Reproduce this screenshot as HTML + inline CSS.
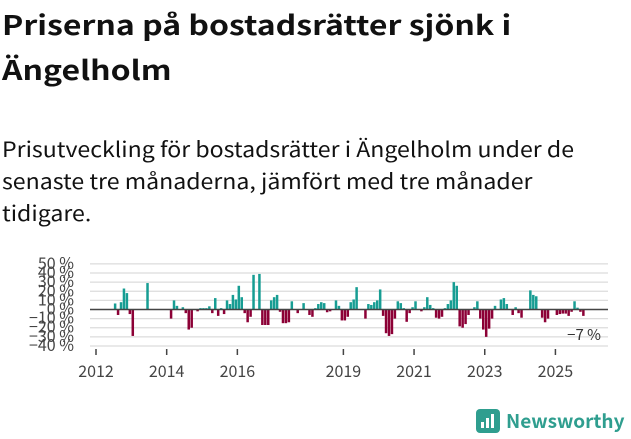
<!DOCTYPE html>
<html><head><meta charset="utf-8"><style>
body{margin:0;width:631px;height:439px;background:#fff;font-family:"Noto Sans CJK SC","DejaVu Sans",sans-serif;overflow:hidden;position:relative;color:#111}
h1{position:absolute;left:2px;top:1px;margin:0;font-size:27px;line-height:45px;font-weight:bold;white-space:nowrap;transform:scaleX(1.185);transform-origin:0 0}
p{position:absolute;left:2px;top:133px;margin:0;font-size:21px;line-height:32px;white-space:nowrap;color:#111;transform:scaleX(1.1);transform-origin:0 0}
svg{position:absolute;left:0;top:0}
</style></head><body>
<h1>Priserna på bostadsrätter sjönk i<br>Ängelholm</h1>
<p>Prisutveckling för bostadsrätter i Ängelholm under de<br>senaste tre månaderna, jämfört med tre månader<br>tidigare.</p>
<svg id="chart" width="631" height="439"></svg>
<script>
const months=[6,7,8,9,10,11,12,17,25,26,27,29,30,31,32,34,35,36,37,38,39,40,41,42,43,44,45,46,47,48,49,50,51,52,53,55,56,57,58,59,60,61,62,63,64,65,66,68,70,72,73,74,75,76,77,78,79,81,82,83,84,85,86,87,88,91,92,93,94,95,96,97,98,99,100,101,102,103,104,105,106,107,108,110,111,112,113,114,115,116,117,118,119,120,121,122,123,124,125,126,128,129,130,131,132,133,134,135,137,138,139,141,142,143,144,147,148,149,151,152,153,156,157,158,159,160,161,162,163,164,165];
const values=[6.6,-6,8,23,18,-5,-29,29,-10,10,4,2.5,-4,-22,-20,-2,1.5,1.5,1.5,3.5,-4,12.5,-7,1.5,-5,10,6,16,11,26,13.5,-4,-14,-8,38,39,-17,-17,-17,10,13.5,16,-2.5,-15,-15,-14,9,-4,7,-6,-8,1.5,6,8,7,-3,-2,10,4,-12,-12,-8,8,11,24.5,-10,6,5,8,10,22,-7,-26,-29,-27,-10,9,7,1.5,-13.5,-4,2.5,9,-2,2.5,13.5,5,1.5,-9,-10,-8,1.5,6,10,30,26,-18.5,-20,-16,-6,2.5,9,-10,-22,-30,-21,-10,4,11,12.5,6,-6,2.5,-4,-9,21,16,14.5,-9,-14,-10,-6,-5,-4.5,-4.5,-7,-2.5,9,2,-2.5,-7];
const yTicks=[50,40,30,20,10,0,-10,-20,-30,-40];
const xYears=[2012,2014,2016,2019,2021,2023,2025];
const svg=document.getElementById('chart');
const NS='http://www.w3.org/2000/svg';
const y=v=>309.5-v*0.912;
const xm=m=>96+m*2.945;
function mk(t,a){const e=document.createElementNS(NS,t);for(const k in a)e.setAttribute(k,a[k]);svg.appendChild(e);return e;}
yTicks.forEach(t=>{
 const l=mk('line',{x1:90,x2:608,y1:y(t),y2:y(t),stroke:'#dcdcdc','stroke-width':1.3});
 
 
 const tx=mk('text',{x:74,y:y(t)+5,'text-anchor':'end','font-size':16,fill:'#444'});
 tx.textContent=(t<0?'−'+(-t):t)+' %';
 
 
});
months.forEach((m,i)=>{
 const v=values[i];
 const r=mk('rect',{x:xm(m)+0.2,width:2.5,y:Math.min(y(v),y(0)),height:Math.abs(y(v)-y(0)),fill:v>=0?'#179d93':'#8c0036'});
 
 
});
const z=mk('line',{x1:90,x2:608,y1:y(0),y2:y(0),stroke:'#444','stroke-width':1.6});


xYears.forEach(yr=>{
 const x=xm((yr-2012)*12);
 const t=mk('line',{x1:x,x2:x,y1:349,y2:355,stroke:'#444','stroke-width':1.5});
 
 
 const tx=mk('text',{x:x,y:377,'text-anchor':'middle','font-size':16,fill:'#444'});
 tx.textContent=yr;
 
 
});
const lab=mk('text',{x:601,y:340,'text-anchor':'end','font-size':15,fill:'#333'});
lab.textContent='−7 %';


</script>
<div style="position:absolute;left:476px;top:409px;display:flex;align-items:center">
 <div style="width:24px;height:24px;background:#2f9e8f;border-radius:4px;position:relative">
  <div style="position:absolute;left:5px;bottom:5px;width:3px;height:6px;background:#fff"></div>
  <div style="position:absolute;left:10px;bottom:5px;width:3px;height:10px;background:#fff"></div>
  <div style="position:absolute;left:15px;bottom:5px;width:3px;height:14px;background:#fff"></div>
 </div>
 <span style="margin-left:6px;font-size:19px;font-weight:bold;color:#2f9e8f;line-height:24px">Newsworthy</span>
</div>
</body></html>
